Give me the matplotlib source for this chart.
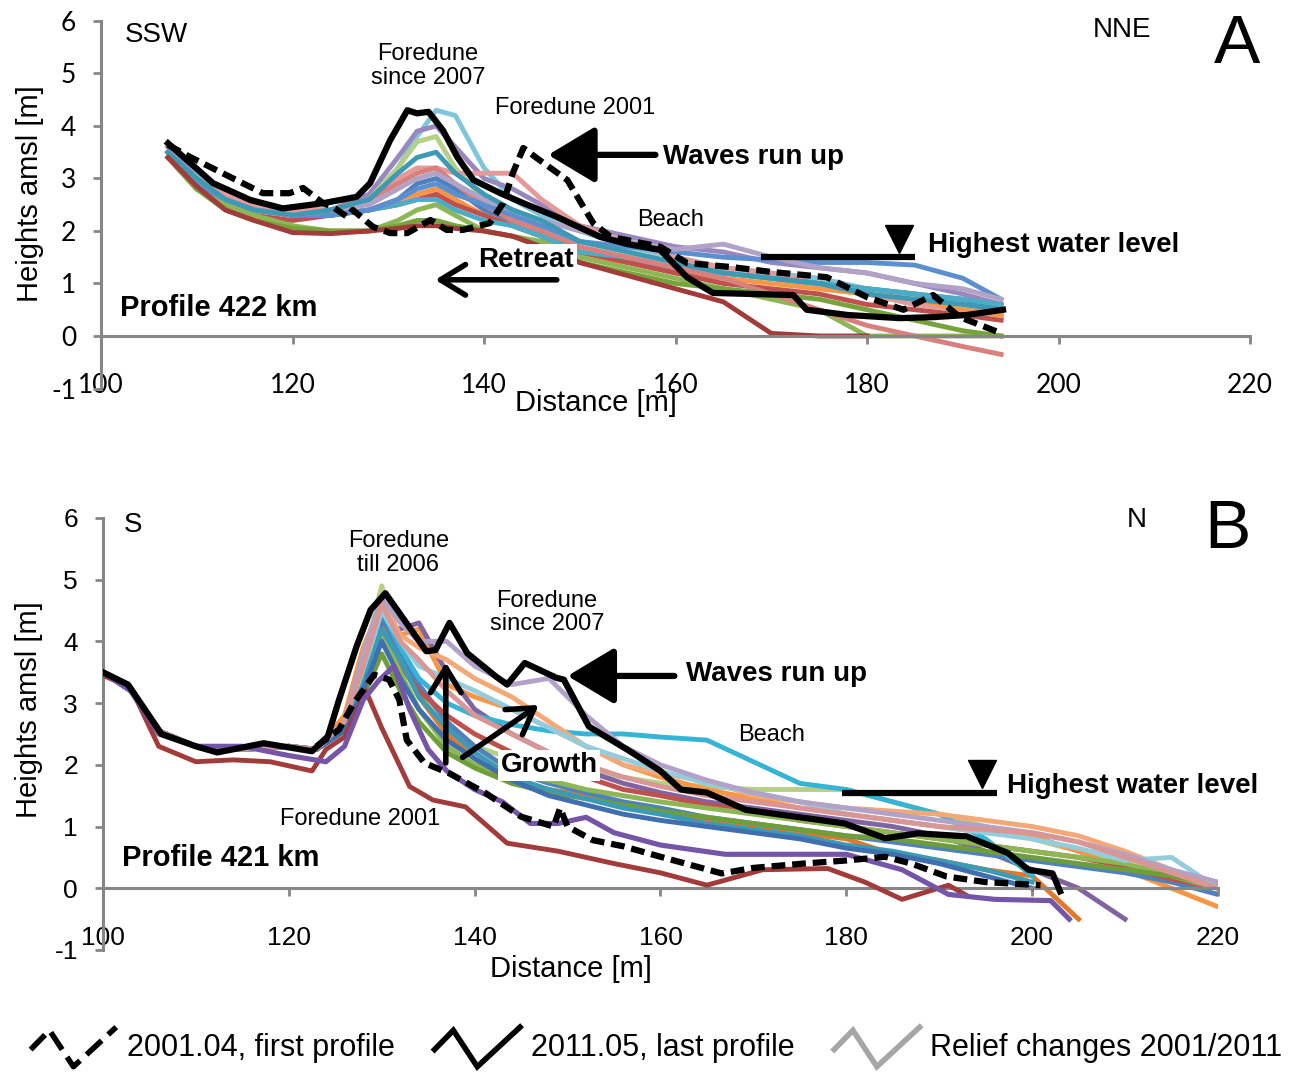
import numpy as np
import matplotlib
matplotlib.use('Agg')
from matplotlib import pyplot as plt
from matplotlib.lines import Line2D
from matplotlib.legend_handler import HandlerBase

nan = np.nan
plt.rcParams['font.family'] = ['Liberation Sans', 'DejaVu Sans']
plt.rcParams['axes.unicode_minus'] = False

# ---------------- Panel A : profile 422 km ----------------
xA = [107, 110, 113, 116, 120, 124, 128, 131, 133, 135, 137, 140, 143, 146,
      150, 155, 160, 165, 170, 175, 180, 185, 190, 194]

a_lblue = [3.6, 3.1, 2.7, 2.5, 2.4, 2.4, 2.6, 3.2, 3.8, 4.3, 4.2, 3.2, 2.6, 2.3, 2.0, 1.7, 1.5, 1.3, 1.2, 1.1, 0.9, 0.8, 0.6, 0.5]
a_purple = [3.6, 3.0, 2.7, 2.5, 2.4, 2.4, 2.7, 3.4, 3.9, 4.0, 3.6, 3.0, 2.8, 2.5, 2.1, 1.9, 1.7, 1.6, 1.4, 1.3, 1.2, 1.0, 0.8, 0.6]
a_lgreen = [3.5, 3.0, 2.6, 2.4, 2.3, 2.3, 2.6, 3.2, 3.7, 3.8, 3.2, 2.6, 2.3, 2.1, 1.8, 1.6, 1.4, 1.2, 1.1, 0.9, 0.8, 0.6, 0.5, 0.4]
a_pink = [3.5, 3.0, 2.7, 2.5, 2.4, 2.4, 2.6, 3.0, 3.2, 3.2, 3.1, 3.1, 3.1, 2.6, 2.1, 1.8, 1.5, 1.3, 1.2, 1.0, 0.8, 0.6, 0.5, 0.4]
a_blue = [3.5, 2.9, 2.6, 2.4, 2.3, 2.3, 2.4, 2.6, 2.9, 3.0, 2.8, 2.4, 2.2, 2.0, 1.6, 1.4, 1.3, 1.2, 1.1, 1.0, 0.9, 0.8, 0.7, 0.5]
a_orange = [3.5, 2.9, 2.6, 2.4, 2.3, 2.3, 2.4, 2.6, 2.7, 2.8, 2.6, 2.3, 2.1, 1.9, 1.5, 1.4, 1.2, 1.1, 1.0, 0.9, 0.8, 0.7, 0.5, 0.4]
a_red = [3.4, 2.8, 2.5, 2.3, 2.2, 2.3, 2.4, 2.5, 2.6, 2.7, 2.5, 2.3, 2.1, 1.9, 1.6, 1.4, 1.2, 1.0, 0.9, 0.8, 0.6, 0.5, 0.4, 0.3]
a_green = [3.4, 2.8, 2.5, 2.3, 2.1, 2.0, 2.0, 2.2, 2.4, 2.5, 2.3, 2.0, 1.9, 1.8, 1.5, 1.3, 1.1, 0.9, 0.7, 0.5, 0.0, 0.0, 0.0, 0.0]
a_aqua = [3.5, 2.9, 2.6, 2.4, 2.3, 2.3, 2.4, 2.5, 2.6, 2.6, 2.4, 2.2, 2.1, 1.9, 1.6, 1.5, 1.3, 1.2, 1.1, 1.0, 0.9, 0.8, 0.7, 0.6]
a_salmon = [3.5, 2.9, 2.6, 2.4, 2.3, 2.4, 2.6, 2.9, 3.1, 3.2, 2.9, 2.5, 2.2, 2.0, 1.7, 1.5, 1.3, 1.1, 0.8, 0.5, 0.2, 0.0, -0.2, -0.35]
a_topblue = [3.5, 2.9, 2.6, 2.4, 2.3, 2.3, 2.4, 2.6, 2.8, 2.9, 2.7, 2.5, 2.3, 2.1, 1.8, 1.7, 1.6, 1.5, 1.45, 1.4, 1.4, 1.35, 1.1, 0.7]
a_lilac = [3.5, 3.0, 2.6, 2.4, 2.3, 2.4, 2.5, 2.8, 3.0, 3.1, 2.9, 2.6, 2.4, 2.2, 2.0, 1.8, 1.65, 1.75, 1.5, 1.3, 1.2, 1.0, 0.9, 0.7]
a_teal = [3.5, 3.0, 2.6, 2.4, 2.3, 2.4, 2.6, 3.1, 3.4, 3.5, 3.1, 2.7, 2.4, 2.2, 1.8, 1.6, 1.4, 1.2, 1.1, 1.0, 0.8, 0.7, 0.6, 0.5]
a_olive = [3.4, 2.8, 2.4, 2.2, 2.05, 2.0, 2.0, 2.1, 2.2, 2.2, 2.1, 2.0, 1.9, 1.7, 1.4, 1.2, 1.0, 0.9, 0.8, 0.7, 0.5, 0.3, 0.1, 0.0]
a_dred = [3.4, 2.85, 2.4, 2.2, 1.97, 1.95, 2.0, 2.05, 2.1, 2.1, 2.05, 2.0, 1.9, 1.7, 1.4, 1.15, 0.9, 0.65, 0.05, 0.0, 0.0, nan, nan, nan]

a_series = [a_lblue, a_purple, a_lgreen, a_pink, a_blue, a_orange, a_red, a_green,
            a_aqua, a_salmon, a_topblue, a_lilac, a_teal, a_olive, a_dred]
a_colors = ['#7FC6DC', '#9A87BE', '#B5CF86', '#E39A98', '#4F81BD', '#F79646', '#C0504D', '#8DB654',
            '#4BACC6', '#D9807E', '#5B8FD0', '#B3A2C7', '#3D9AB5', '#77A33C', '#A33B3B']

# last profile 2011.05
a_last_x = [107, 111.7, 115.6, 119, 123.2, 126.7, 128.1, 130.2, 132, 133, 134.2, 135.7, 137.2, 138.9,
            141.7, 144.1, 147.6, 152.1, 155, 158.4, 161.2, 163.9, 168, 172.3, 173.7, 178, 183.4, 187,
            190.4, 194.2]
a_last_y = [3.67, 2.91, 2.59, 2.43, 2.53, 2.65, 2.91, 3.73, 4.3, 4.24, 4.27, 3.92, 3.41, 2.97,
            2.72, 2.53, 2.27, 1.89, 1.75, 1.64, 1.12, 0.82, 0.8, 0.78, 0.5, 0.4, 0.34, 0.36,
            0.4, 0.5]
# first profile 2001.04
a_first_x = [107, 109.3, 112.7, 116.9, 119.7, 121.1, 123.2, 124.2, 125.7, 126.3, 128.4, 130.2, 132,
             134.4, 136.1, 137.8, 140.6, 142, 143, 144.1, 145.8, 148.7, 151.4, 153.2, 158.4, 161.2,
             166, 170, 175.8, 180, 183.8, 186.9, 189.7, 193.9]
a_first_y = [3.64, 3.41, 3.1, 2.72, 2.72, 2.82, 2.53, 2.46, 2.27, 2.4, 2.08, 1.96, 1.96,
             2.21, 2.02, 2.02, 2.15, 2.53, 3.1, 3.58, 3.35, 2.97, 2.15, 1.89, 1.7, 1.39,
             1.31, 1.22, 1.12, 0.74, 0.5, 0.78, 0.36, 0.06]

# ---------------- Panel B : profile 421 km ----------------
xB = [100, 103, 106, 110, 115, 120, 123, 126, 128, 130, 132, 134, 137, 140, 144, 148,
      152, 156, 160, 165, 170, 175, 180, 185, 190, 195, 200, 205, 210, 215, 220]

b_lgreen = [3.5, 3.2, 2.55, 2.3, 2.25, 2.3, 2.25, 2.7, 3.7, 4.9, 3.9, 3.2, 2.6, 2.3, 2.1, 2.0, 1.9, 1.8, 1.7, 1.65, 1.6, 1.6, 1.6, 1.4, 1.2, 1.0, 0.8, 0.6, 0.4, 0.2, 0.0]
b_orange = [3.5, 3.2, 2.55, 2.3, 2.25, 2.3, 2.25, 2.8, 3.9, 4.6, 4.1, 4.2, 3.3, 3.1, 2.9, 2.6, 2.3, 2.0, 1.8, 1.6, 1.45, 1.3, 1.2, 1.1, 1.0, 0.9, 0.85, 0.6, 0.3, 0.0, -0.3]
b_dorange = [3.5, 3.2, 2.55, 2.3, 2.25, 2.3, 2.25, 2.6, 3.3, 4.3, 3.7, 3.1, 2.5, 2.1, 1.7, 1.6, 1.5, 1.35, 1.25, 1.1, 1.0, 0.9, 0.8, 0.55, 0.45, 0.3, 0.2, -0.5, nan, nan, nan]
b_purple = [3.5, 3.2, 2.55, 2.3, 2.25, 2.3, 2.25, 2.6, 3.5, 4.3, 4.2, 4.3, 3.5, 2.9, 2.5, 2.2, 1.9, 1.7, 1.55, 1.4, 1.3, 1.2, 1.1, 1.0, 0.85, 0.6, 0.3, 0.0, -0.5, nan, nan]
b_blue = [3.5, 3.2, 2.55, 2.3, 2.25, 2.3, 2.25, 2.6, 3.5, 4.4, 3.8, 3.3, 2.7, 2.3, 1.9, 1.7, 1.55, 1.4, 1.3, 1.15, 1.05, 0.95, 0.85, 0.75, 0.65, 0.55, 0.45, 0.35, 0.25, 0.1, -0.1]
b_aqua = [3.5, 3.2, 2.55, 2.3, 2.25, 2.3, 2.25, 2.6, 3.4, 4.5, 3.9, 3.4, 3.0, 2.8, 2.65, 2.55, 2.5, 2.5, 2.45, 2.4, 2.05, 1.7, 1.6, 1.4, 1.2, 0.8, 0.2, nan, nan, nan, nan]
b_red = [3.5, 3.2, 2.55, 2.3, 2.25, 2.3, 2.25, 2.6, 3.3, 4.05, 3.6, 3.2, 2.8, 2.5, 2.2, 2.0, 1.8, 1.6, 1.5, 1.35, 1.25, 1.1, 1.0, 0.9, 0.8, 0.7, 0.6, 0.5, 0.35, 0.15, 0.0]
b_green = [3.5, 3.2, 2.55, 2.3, 2.25, 2.3, 2.25, 2.6, 3.3, 4.15, 3.5, 2.9, 2.3, 2.0, 1.85, 1.75, 1.6, 1.5, 1.4, 1.3, 1.2, 1.1, 1.0, 0.9, 0.8, 0.7, 0.6, 0.5, 0.4, 0.2, 0.0]
b_dgreen = [3.5, 3.2, 2.55, 2.3, 2.25, 2.3, 2.25, 2.55, 3.1, 3.8, 3.2, 2.7, 2.2, 1.95, 1.7, 1.55, 1.45, 1.35, 1.25, 1.15, 1.05, 0.95, 0.85, 0.8, 0.7, 0.6, 0.5, 0.4, 0.3, 0.2, 0.05]
b_salmon = [3.5, 3.2, 2.55, 2.3, 2.25, 2.3, 2.25, 2.7, 3.7, 4.7, 4.1, 3.9, 3.7, 3.4, 3.1, 2.7, 2.3, 2.0, 1.85, 1.75, 1.5, 1.4, 1.3, 1.25, 1.2, 1.1, 1.0, 0.85, 0.6, 0.3, 0.0]
b_lblue = [3.5, 3.2, 2.55, 2.3, 2.25, 2.3, 2.25, 2.6, 3.5, 4.5, 4.0, 3.6, 3.4, 3.2, 2.9, 2.6, 2.3, 2.1, 1.9, 1.7, 1.55, 1.4, 1.2, 1.1, 1.0, 0.9, 0.8, 0.65, 0.45, 0.5, 0.0]
b_lilac = [3.5, 3.2, 2.55, 2.3, 2.25, 2.3, 2.25, 2.7, 3.8, 4.7, 4.3, 4.0, 4.0, 3.6, 3.3, 3.4, 2.8, 2.3, 2.0, 1.75, 1.55, 1.4, 1.3, 1.2, 1.1, 1.0, 0.9, 0.75, 0.55, 0.3, 0.1]
b_teal = [3.5, 3.2, 2.55, 2.3, 2.25, 2.3, 2.25, 2.6, 3.3, 4.2, 3.7, 3.1, 2.6, 2.2, 1.8, 1.6, 1.45, 1.3, 1.2, 1.05, 0.95, 0.85, 0.7, 0.6, 0.45, 0.3, 0.1, nan, nan, nan, nan]
b_dblue = [3.5, 3.2, 2.55, 2.3, 2.25, 2.3, 2.25, 2.55, 3.2, 4.0, 3.4, 2.9, 2.4, 2.1, 1.75, 1.5, 1.35, 1.2, 1.1, 1.0, 0.9, 0.8, 0.65, 0.55, 0.4, 0.2, 0.0, nan, nan, nan, nan]
b_pink = [3.5, 3.2, 2.55, 2.3, 2.25, 2.3, 2.25, 2.7, 3.6, 4.6, 4.0, 3.7, 3.2, 2.8, 2.5, 2.2, 2.0, 1.8, 1.65, 1.5, 1.4, 1.3, 1.2, 1.1, 1.0, 0.95, 0.9, 0.75, 0.5, 0.25, 0.0]

b_series = [b_lgreen, b_orange, b_dorange, b_purple, b_blue, b_aqua, b_red, b_green,
            b_dgreen, b_salmon, b_lblue, b_lilac, b_teal, b_dblue, b_pink]
b_colors = ['#B5CF86', '#F79646', '#E07A2A', '#8064A2', '#4F81BD', '#35B4D6', '#C0504D', '#8DB654',
            '#6E9E3A', '#F4A877', '#93CDDD', '#B3A2C7', '#3D9AB5', '#3F6FAF', '#D99694']

b_violet_x = [100, 103, 106, 110, 115, 120, 124, 126, 128, 129.6, 131.3, 133, 135, 137, 140, 143,
              146, 149, 152, 155, 160, 167, 175, 180, 186, 191, 196, 202, 204]
b_violet_y = [3.5, 3.2, 2.5, 2.3, 2.3, 2.15, 2.05, 2.3, 3.05, 3.35, 3.6, 2.9, 2.25, 1.9, 1.6, 1.4,
              1.05, 1.05, 1.15, 0.9, 0.7, 0.55, 0.55, 0.55, 0.3, -0.1, -0.18, -0.2, -0.5]
b_dred_x = [100, 103, 106, 110, 114, 118, 122.5, 124, 126, 128.3, 130, 133, 135.5, 139, 143.5,
            149, 155, 160, 165, 171, 178, 182, 186, 191, 193]
b_dred_y = [3.45, 3.25, 2.3, 2.05, 2.08, 2.05, 1.9, 2.25, 2.45, 3.2, 2.6, 1.65, 1.43, 1.32, 0.73,
            0.6, 0.4, 0.25, 0.05, 0.3, 0.32, 0.1, -0.18, 0.05, -0.12]

b_last_x = [100, 102.7, 106.3, 110, 112.3, 117.3, 122.5, 124.2, 125.4, 127.3, 128.8, 130.4, 131.9,
            134.8, 135.8, 137.3, 139.2, 142.3, 143.5, 145.4, 148.8, 149.6, 152.3, 156.5, 160,
            162.2, 165, 169.2, 175, 179.8, 184.2, 187.7, 193, 197.4, 199.6, 202.2, 203]
b_last_y = [3.5, 3.3, 2.5, 2.3, 2.2, 2.35, 2.22, 2.46, 3.05, 3.92, 4.51, 4.78, 4.46,
            3.84, 3.86, 4.3, 3.81, 3.43, 3.3, 3.65, 3.41, 3.38, 2.62, 2.24, 1.9,
            1.6, 1.55, 1.27, 1.15, 1.05, 0.81, 0.89, 0.84, 0.57, 0.3, 0.24, -0.05]
b_first_x = [123, 125.4, 127, 129.2, 130.8, 131.9, 132.7, 134.6, 137.3, 141.2, 145, 148.5, 149.2,
             150, 152.7, 156, 160, 166.6, 170, 175.4, 180, 184.2, 187, 190.8, 195, 200.9]
b_first_y = [2.3, 2.57, 3.0, 3.46, 3.38, 3.05, 2.4, 2.03, 1.86, 1.54, 1.16, 1.0, 1.3,
             1.0, 0.78, 0.68, 0.51, 0.24, 0.33, 0.4, 0.45, 0.51, 0.4, 0.19, 0.1, 0.05]

legend_labels = ['2001.04, first profile', '2011.05, last profile', 'Relief changes 2001/2011']

AXIS_GRAY = '#868686'
DASH = (0, (2.2, 1.1))


class ZigzagHandler(HandlerBase):
    # legend icon drawn as a little zig-zag, like the spreadsheet legend
    def create_artists(self, legend, orig_handle, xdescent, ydescent, width, height, fontsize, trans):
        xs = np.array([0.0, 0.22, 0.5, 1.0]) * width - xdescent
        ys = np.array([0.3, 1.2, -0.5, 1.35]) * height - ydescent
        line = Line2D(xs, ys, color=orig_handle.get_color(), lw=orig_handle.get_linewidth(),
                      ls=orig_handle.get_linestyle(), solid_joinstyle='miter', transform=trans)
        return [line]


def style_axes(ax, tick_font):
    ax.set_xlim(100, 220)
    ax.set_ylim(-1, 6)
    ax.set_xticks(range(100, 221, 20))
    ax.set_yticks(range(-1, 7))
    for s in ['top', 'right']:
        ax.spines[s].set_visible(False)
    ax.spines['bottom'].set_position(('data', 0))
    for s in ['left', 'bottom']:
        ax.spines[s].set_color(AXIS_GRAY)
        ax.spines[s].set_linewidth(2.2)
    ax.tick_params(axis='x', direction='out', length=6, width=2, color=AXIS_GRAY, pad=21,
                   labelsize=19)
    ax.tick_params(axis='y', direction='out', length=6, width=2, color=AXIS_GRAY, pad=12,
                   labelsize=19)
    for lab in ax.get_xticklabels() + ax.get_yticklabels():
        lab.set_family(tick_font)
    ax.set_xlabel('Distance [m]', fontsize=21)
    ax.set_ylabel('Heights amsl [m]', fontsize=21)


def water_level(ax, x0, x1, y, tri_x, tri_y, tx, ty):
    ax.plot([x0, x1], [y, y], color='black', lw=4.5, solid_capstyle='butt', zorder=7)
    ax.plot([tri_x], [tri_y], marker='v', ms=20, color='black', zorder=7)
    ax.text(tx, ty, 'Highest water level', fontsize=20, fontweight='bold', va='center', ha='left',
            zorder=8, bbox=dict(facecolor='white', edgecolor='none', pad=1))


def filled_arrow(ax, tip, tail):
    ax.annotate('', xy=tip, xytext=tail, zorder=8,
                arrowprops=dict(arrowstyle='-|>,head_length=1.0,head_width=0.6', mutation_scale=29,
                                lw=4.5, color='black', shrinkA=0, shrinkB=0))


def open_arrow(ax, tip, tail):
    ax.annotate('', xy=tip, xytext=tail, zorder=8,
                arrowprops=dict(arrowstyle='->,head_length=0.9,head_width=0.55', mutation_scale=20,
                                lw=4, color='black', shrinkA=0, shrinkB=0))


fig = plt.figure(figsize=(12.95, 10.75), dpi=100)
axA = fig.add_axes([0.078, 0.6386, 0.8873, 0.3419])
axB = fig.add_axes([0.0795, 0.1163, 0.861, 0.4019])

# ---- panel A
for vals, col in zip(a_series, a_colors):
    axA.plot(xA, vals, color=col, lw=3.5, zorder=2)
axA.plot(a_first_x, a_first_y, color='black', lw=4.5, ls=DASH, zorder=4)
axA.plot(a_last_x, a_last_y, color='black', lw=4.5, zorder=5)
style_axes(axA, 'Lato')
axA.yaxis.set_label_coords(-0.05, 0.53)
axA.xaxis.set_label_coords(0.431, 0.0)

axA.text(102.5, 5.73, 'SSW', fontsize=20, va='center', ha='left')
axA.text(206.6, 5.83, 'NNE', fontsize=20, va='center', ha='center')
axA.text(218.6, 5.54, 'A', fontsize=50, va='center', ha='center', clip_on=False)
axA.text(134.15, 5.14, 'Foredune\nsince 2007', fontsize=17, va='center', ha='center', linespacing=1.1)
axA.text(141.15, 4.34, 'Foredune 2001', fontsize=17, va='center', ha='left')
axA.text(158.7, 3.41, 'Waves run up', fontsize=20, fontweight='bold', va='center', ha='left')
filled_arrow(axA, (146.7, 3.45), (157.9, 3.45))
axA.text(159.5, 2.21, 'Beach', fontsize=17, va='center', ha='center')
water_level(axA, 168.9, 185.0, 1.5, 183.3, 1.85, 186.4, 1.73)
axA.text(144.4, 1.45, 'Retreat', fontsize=20, fontweight='bold', va='center', ha='center', zorder=8,
         bbox=dict(facecolor='white', edgecolor='none', pad=2))
open_arrow(axA, (134.9, 1.07), (147.6, 1.07))
axA.text(102.0, 0.53, 'Profile 422 km', fontsize=21, fontweight='bold', va='center', ha='left')

# ---- panel B
for vals, col in zip(b_series, b_colors):
    axB.plot(xB, vals, color=col, lw=3.5, zorder=2)
axB.plot(b_dred_x, b_dred_y, color='#A33B3B', lw=3.5, zorder=3)
axB.plot(b_violet_x, b_violet_y, color='#7555A8', lw=3.7, zorder=3)
axB.plot(b_first_x, b_first_y, color='black', lw=4.5, ls=DASH, zorder=4)
axB.plot(b_last_x, b_last_y, color='black', lw=4.5, zorder=5)
style_axes(axB, 'Liberation Sans')
axB.yaxis.set_label_coords(-0.054, 0.556)
axB.xaxis.set_label_coords(0.42, -0.012)

axB.text(102.2, 5.88, 'S', fontsize=20, va='center', ha='left')
axB.text(211.3, 5.96, 'N', fontsize=20, va='center', ha='center')
axB.text(221.0, 5.8, 'B', fontsize=50, va='center', ha='center', clip_on=False)
axB.text(131.8, 5.43, 'Foredune\ntill 2006', fontsize=17, va='center', ha='center', linespacing=1.1)
axB.text(147.8, 4.47, 'Foredune\nsince 2007', fontsize=17, va='center', ha='center', linespacing=1.1)
axB.text(162.7, 3.47, 'Waves run up', fontsize=20, fontweight='bold', va='center', ha='left')
filled_arrow(axB, (150.0, 3.44), (161.5, 3.44))
axB.text(172.0, 2.48, 'Beach', fontsize=17, va='center', ha='center')
water_level(axB, 179.5, 196.2, 1.54, 194.6, 1.85, 197.25, 1.65)
axB.text(127.7, 1.13, 'Foredune 2001', fontsize=17, va='center', ha='center')
axB.text(102.05, 0.49, 'Profile 421 km', fontsize=21, fontweight='bold', va='center', ha='left')
axB.text(148.0, 1.99, 'Growth', fontsize=20, fontweight='bold', va='center', ha='center', zorder=8,
         bbox=dict(facecolor='white', edgecolor='none', pad=2))
open_arrow(axB, (136.9, 3.66), (136.9, 2.03))
open_arrow(axB, (146.9, 2.97), (138.7, 2.12))

# ---- legend
handles = [Line2D([], [], color='black', lw=4, ls=DASH),
           Line2D([], [], color='black', lw=4),
           Line2D([], [], color='#A6A6A6', lw=4)]
fig.legend(handles, legend_labels, loc='center', bbox_to_anchor=(0.507, 1 - 1048 / 1075), ncol=3,
           frameon=False, fontsize=22, handlelength=2.8, handletextpad=0.35, columnspacing=1.3,
           handler_map={Line2D: ZigzagHandler()})

fig.savefig('out.png', dpi=100)
